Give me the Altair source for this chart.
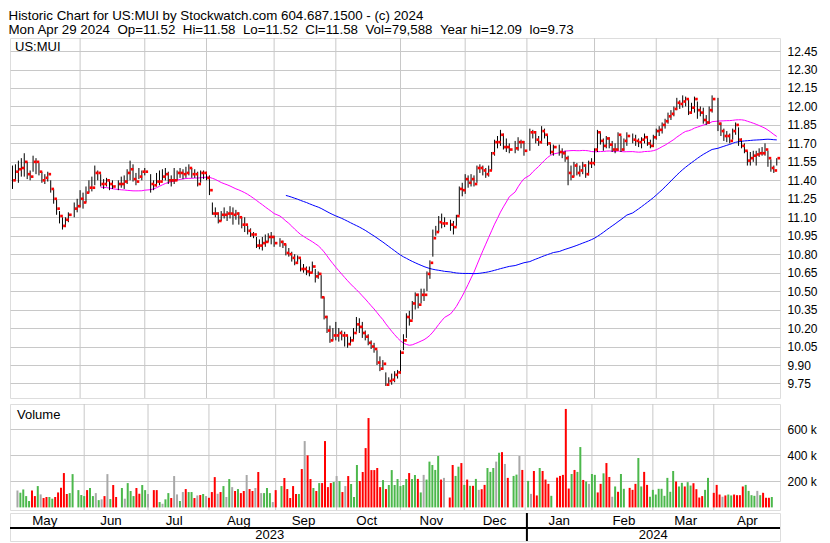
import altair as alt
import pandas as pd
import numpy as np

FONT = "Liberation Sans"

# ---------------- data ----------------
N_WEEKDAYS = 261                      # weekday slots May 1 2023 .. Apr 29 2024
HOLIDAYS = [20, 35, 46, 90, 148, 170, 175, 185, 210, 239]   # empty weekday slots

CLOSE = [
    11.40, 11.47, 11.49, 11.50, 11.55, 11.45, 11.43, 11.55, 11.55, 11.47,
    11.40, 11.42, 11.45, 11.33, 11.25, 11.17, 11.11, 11.03, 11.08, 11.12,
    11.17, 11.19, 11.25, 11.22, 11.30, 11.34, 11.34, 11.46, 11.46,
    11.37, 11.37, 11.40, 11.37, 11.35,
    11.37, 11.37, 11.39, 11.46,
    11.49, 11.41, 11.39, 11.43, 11.47, 11.47,
    11.37, 11.36, 11.39,
    11.39, 11.43, 11.45, 11.40, 11.40, 11.40, 11.46, 11.46, 11.45, 11.46,
    11.50, 11.45, 11.45, 11.37, 11.46, 11.46, 11.42, 11.32, 11.13, 11.13,
    11.07, 11.12, 11.12, 11.13, 11.13, 11.12, 11.13, 11.10, 11.04, 11.04,
    10.99, 10.96, 10.96, 10.87, 10.87, 10.89, 10.90, 10.94, 10.94, 10.89,
    10.90, 10.88, 10.81, 10.80, 10.77, 10.73, 10.77, 10.68, 10.68,
    10.66, 10.65, 10.70, 10.62, 10.64, 10.45, 10.29, 10.18, 10.10, 10.14,
    10.14, 10.16, 10.14, 10.14, 10.07, 10.10, 10.16, 10.23, 10.21, 10.16,
    10.13, 10.08, 10.05, 10.03, 9.92, 9.87, 9.91, 9.74, 9.77, 9.78,
    9.82, 9.84, 10.00, 10.10, 10.29, 10.26, 10.40, 10.47, 10.39, 10.47,
    10.47, 10.64, 10.73, 10.93, 10.98, 11.06, 11.05, 11.05,
    11.04,
    11.02, 11.11, 11.33, 11.32, 11.41, 11.38, 11.41, 11.37, 11.50, 11.50,
    11.48, 11.45, 11.48, 11.62, 11.71, 11.71, 11.77, 11.67, 11.67, 11.65,
    11.66, 11.71, 11.71, 11.64,
    11.79, 11.79, 11.73, 11.71,
    11.80, 11.77, 11.70, 11.63, 11.67,
    11.63, 11.62, 11.58, 11.46,
    11.43, 11.52, 11.46, 11.48, 11.52, 11.45, 11.54, 11.54, 11.65, 11.79,
    11.72, 11.68, 11.74, 11.69, 11.65, 11.65, 11.77, 11.65, 11.72, 11.76,
    11.73, 11.72, 11.71, 11.73, 11.75, 11.70, 11.68, 11.75, 11.80,
    11.81, 11.85, 11.88, 11.92, 11.94, 11.98, 12.03, 12.02, 12.04, 12.06,
    11.95, 11.99, 12.06, 11.97, 11.95, 11.89, 11.87, 11.97, 12.06,
    11.86, 11.80, 11.76, 11.76, 11.72, 11.80, 11.85, 11.73, 11.68, 11.64,
    11.56, 11.58, 11.60, 11.61, 11.62, 11.62, 11.65, 11.58, 11.50, 11.48,
    11.58,
]

HIGH = [
    11.52, 11.53, 11.56, 11.58, 11.62, 11.55, 11.48, 11.60, 11.58, 11.54,
    11.47, 11.45, 11.47, 11.40, 11.33, 11.24, 11.15, 11.10, 11.10, 11.14,
    11.22, 11.25, 11.32, 11.30, 11.35, 11.40, 11.43, 11.52, 11.48,
    11.45, 11.41, 11.42, 11.40, 11.40,
    11.40, 11.43, 11.44, 11.49,
    11.56, 11.53, 11.46, 11.50, 11.48, 11.50,
    11.45, 11.40, 11.46,
    11.48, 11.49, 11.50, 11.47, 11.44, 11.50, 11.48, 11.50, 11.49, 11.51,
    11.53, 11.50, 11.49, 11.47, 11.48, 11.48, 11.47, 11.44, 11.22, 11.18,
    11.14, 11.15, 11.18, 11.15, 11.19, 11.18, 11.16, 11.14, 11.10, 11.10,
    11.03, 11.01, 10.98, 10.94, 10.92, 10.94, 10.96, 10.97, 10.98, 10.95,
    10.93, 10.91, 10.88, 10.85, 10.82, 10.80, 10.79, 10.76, 10.72,
    10.70, 10.70, 10.74, 10.68, 10.66, 10.63, 10.45, 10.30, 10.22, 10.20,
    10.25, 10.20, 10.18, 10.17, 10.14, 10.13, 10.20, 10.29, 10.28, 10.25,
    10.18, 10.15, 10.10, 10.08, 10.02, 9.97, 9.94, 9.84, 9.80, 9.83,
    9.85, 9.86, 10.02, 10.15, 10.32, 10.34, 10.42, 10.49, 10.48, 10.52,
    10.52, 10.66, 10.75, 11.00, 11.03, 11.11, 11.13, 11.10,
    11.08,
    11.07, 11.12, 11.35, 11.38, 11.45, 11.44, 11.45, 11.44, 11.52, 11.53,
    11.52, 11.50, 11.52, 11.63, 11.73, 11.76, 11.81, 11.78, 11.74, 11.70,
    11.72, 11.75, 11.73, 11.72,
    11.82, 11.81, 11.80, 11.76,
    11.84, 11.82, 11.77, 11.70, 11.69,
    11.69, 11.66, 11.64, 11.60,
    11.52, 11.55, 11.54, 11.52, 11.55, 11.53, 11.56, 11.58, 11.66, 11.81,
    11.79, 11.74, 11.76, 11.75, 11.72, 11.70, 11.79, 11.76, 11.74, 11.79,
    11.78, 11.77, 11.74, 11.75, 11.78, 11.76, 11.73, 11.77, 11.82,
    11.84, 11.87, 11.90, 11.95, 11.97, 12.00, 12.07, 12.05, 12.09, 12.08,
    12.06, 12.03, 12.08, 12.04, 12.00, 11.99, 11.93, 12.00, 12.09,
    12.07, 11.87, 11.82, 11.80, 11.78, 11.82, 11.87, 11.83, 11.74, 11.70,
    11.64, 11.63, 11.64, 11.64, 11.66, 11.67, 11.70, 11.64, 11.57, 11.52,
    11.58,
]

LOW = [
    11.33, 11.40, 11.38, 11.43, 11.43, 11.41, 11.40, 11.47, 11.45, 11.44,
    11.38, 11.37, 11.39, 11.30, 11.21, 11.12, 11.05, 11.00, 11.02, 11.06,
    11.10, 11.14, 11.18, 11.17, 11.22, 11.30, 11.31, 11.36, 11.40,
    11.35, 11.33, 11.35, 11.32, 11.33,
    11.32, 11.34, 11.33, 11.37,
    11.40, 11.39, 11.36, 11.41, 11.40, 11.44,
    11.30, 11.32, 11.35,
    11.36, 11.40, 11.40, 11.37, 11.35, 11.37, 11.40, 11.42, 11.41, 11.42,
    11.44, 11.42, 11.42, 11.35, 11.38, 11.41, 11.40, 11.28, 11.12, 11.10,
    11.05, 11.07, 11.09, 11.07, 11.09, 11.04, 11.08, 11.04, 11.01, 10.98,
    10.96, 10.94, 10.93, 10.85, 10.84, 10.83, 10.86, 10.90, 10.88, 10.86,
    10.86, 10.85, 10.79, 10.78, 10.74, 10.71, 10.72, 10.66, 10.65,
    10.63, 10.62, 10.65, 10.57, 10.60, 10.44, 10.27, 10.16, 10.08, 10.10,
    10.10, 10.09, 10.10, 10.05, 10.04, 10.06, 10.10, 10.17, 10.16, 10.12,
    10.10, 10.06, 10.03, 10.00, 9.90, 9.85, 9.86, 9.73, 9.73, 9.74,
    9.76, 9.79, 9.83, 10.02, 10.12, 10.22, 10.27, 10.35, 10.36, 10.40,
    10.42, 10.50, 10.60, 10.78, 10.95, 10.98, 11.01, 11.02,
    10.99,
    10.96, 11.03, 11.12, 11.27, 11.29, 11.34, 11.35, 11.35, 11.38, 11.46,
    11.44, 11.42, 11.43, 11.48, 11.60, 11.66, 11.68, 11.65, 11.63, 11.62,
    11.62, 11.64, 11.66, 11.60,
    11.64, 11.74, 11.70, 11.68,
    11.70, 11.74, 11.68, 11.61, 11.60,
    11.60, 11.58, 11.55, 11.36,
    11.40, 11.43, 11.44, 11.43, 11.45, 11.42, 11.44, 11.50, 11.52, 11.63,
    11.69, 11.64, 11.66, 11.66, 11.63, 11.62, 11.64, 11.63, 11.64, 11.68,
    11.70, 11.68, 11.67, 11.66, 11.70, 11.68, 11.66, 11.67, 11.73,
    11.76, 11.78, 11.82, 11.86, 11.89, 11.92, 11.97, 11.98, 11.99, 12.00,
    11.93, 11.94, 11.95, 11.90, 11.92, 11.86, 11.85, 11.86, 11.95,
    11.80, 11.76, 11.72, 11.71, 11.70, 11.73, 11.77, 11.68, 11.66, 11.62,
    11.52, 11.52, 11.55, 11.52, 11.59, 11.60, 11.60, 11.51, 11.47, 11.46,
    11.52,
]

VOLUME_K = [
    130, 113, 138, 87, 49, 130, 87, 164, 100, 72,
    80, 80, 67, 80, 115, 151, 264, 103, 110, 256,
    133, 95, 87, 133, 149, 87, 110, 56, 62,
    87, 256, 64, 172, 80,
    149, 67, 187, 126,
    87, 149, 105, 172, 133, 103,
    133, 133, 41,
    28, 62, 110, 72, 241, 100, 49, 118, 141, 118,
    118, 72, 92, 95, 103, 87, 74, 118, 233, 105,
    118, 164, 80, 218, 156, 126, 141, 110, 126, 249,
    141, 126, 149, 272, 110, 110, 149, 110, 41, 133,
    164, 226, 141, 72, 164, 103, 103, 295, 510,
    400, 218, 149, 126, 187, 187, 510, 156, 187, 195,
    241, 203, 118, 164, 241, 180, 80, 326, 203, 272,
    456, 687, 287, 287, 303, 156, 210, 141, 172, 287,
    172, 218, 164, 172, 218, 264, 218, 249, 219, 115,
    250, 214, 352, 326, 288, 395, 214, 227,
    76,
    326, 242, 313, 341, 173, 214, 166, 166, 219, 135,
    140, 173, 303, 273, 303, 352, 420, 425, 334, 227,
    242, 252, 395, 288,
    204, 104, 280, 92,
    303, 280, 214, 181, 89,
    229, 242, 250, 757,
    145, 257, 288, 273, 464, 211, 199, 181, 257, 250,
    115, 181, 262, 341, 234, 82, 161, 120, 257, 143,
    150, 135, 181, 380, 161, 273, 173, 82, 135,
    99, 143, 143, 89, 227, 120, 280, 199, 161, 189,
    161, 194, 168, 186, 140, 76, 87, 135, 227,
    112, 173, 99, 82, 92, 99, 92, 99, 94, 94,
    161, 173, 127, 94, 89, 127, 94, 112, 74, 74,
    80,
]

MONTH_NAMES = ["May", "Jun", "Jul", "Aug", "Sep", "Oct", "Nov", "Dec",
               "Jan", "Feb", "Mar", "Apr"]
MONTH_START = [0, 23, 45, 66, 89, 110, 132, 154, 175, 198, 219, 240]
YEAR_NAMES = ["2023", "2024"]
YEAR_START = [0, 175]

PRICE_TICKS = [9.75, 9.90, 10.05, 10.20, 10.35, 10.50, 10.65, 10.80, 10.95,
               11.10, 11.25, 11.40, 11.55, 11.70, 11.85, 12.00, 12.15, 12.30, 12.45]
VOL_TICKS = [200000, 400000, 600000]

NB = "\u00a0"
TITLE_LINES = [
    "Historic Chart for US:MUI by Stockwatch.com 604.687.1500 - (c) 2024",
    f"Mon Apr 29 2024 {NB}Op=11.52 {NB}Hi=11.58 {NB}Lo=11.52 {NB}Cl=11.58 {NB}Vol=79,588 {NB}Year hi=12.09 {NB}lo=9.73",
]

# ---------------- tables ----------------
idx = [i for i in range(N_WEEKDAYS) if i not in HOLIDAYS]
assert len(idx) == len(CLOSE) == len(HIGH) == len(LOW) == len(VOLUME_K)
df = pd.DataFrame({"i": idx, "close": CLOSE, "high": HIGH, "low": LOW,
                   "volume": [v * 1000 for v in VOLUME_K]})
chg = df["close"].diff().fillna(0)
df["dir"] = np.where(chg > 0.001, "up", np.where(chg < -0.001, "down", "flat"))

bounds = MONTH_START + [N_WEEKDAYS]
mdf = pd.DataFrame({"m": MONTH_NAMES,
                    "mid": [(bounds[k] + bounds[k + 1]) / 2 - 0.5 for k in range(len(MONTH_NAMES))]})
gdf = pd.DataFrame({"i": MONTH_START[1:]})
ybounds = YEAR_START + [N_WEEKDAYS]
ydf = pd.DataFrame({"y": YEAR_NAMES,
                    "mid": [(ybounds[k] + ybounds[k + 1]) / 2 for k in range(len(YEAR_NAMES))]})

# ---------------- geometry ----------------
W = 770
PH = 360
VH = 106
AH = 28
GRID = "#c8c8c8"
GREEN = "#4cb84c"
RED = "#ff0000"
GRAY = "#a8a8a8"

xscale = alt.Scale(domain=[-0.85, 261.1], nice=False, zero=False)
xenc = alt.X("i:Q", scale=xscale, axis=None)

price_axis = alt.Axis(orient="right", values=PRICE_TICKS, format=".2f", grid=True,
                      gridColor=GRID, gridWidth=1, domain=False, ticks=False,
                      labelPadding=7, labelFont=FONT, labelFontSize=12,
                      labelColor="black", title=None)
pscale = alt.Scale(domain=[9.632, 12.556], nice=False, zero=False)

base = alt.Chart(df)

vgrid_p = alt.Chart(gdf).mark_rule(color=GRID, strokeWidth=1).encode(
    x=xenc, y=alt.value(0), y2=alt.value(PH))

hl = base.mark_rule(color="black", strokeWidth=1).encode(
    x=xenc, y=alt.Y("low:Q", scale=pscale, axis=price_axis), y2="high:Q")

cl = base.mark_square(color=RED, size=7, opacity=1, strokeWidth=0, xOffset=2).encode(
    x=xenc, y=alt.Y("close:Q", scale=pscale, axis=price_axis))

ma30 = base.transform_window(
    ma="mean(close)", rn="row_number()", frame=[-29, 0], sort=[alt.SortField("i")]
).transform_filter("datum.rn >= 30").mark_line(color="#ff00ff", strokeWidth=1).encode(
    x=xenc, y=alt.Y("ma:Q", scale=pscale, axis=price_axis))

ma90 = base.transform_window(
    ma="mean(close)", rn="row_number()", frame=[-89, 0], sort=[alt.SortField("i")]
).transform_filter("datum.rn >= 90").mark_line(color="#0000ff", strokeWidth=1).encode(
    x=xenc, y=alt.Y("ma:Q", scale=pscale, axis=price_axis))

sym = alt.Chart(pd.DataFrame({"t": ["US:MUI"]})).mark_text(
    align="left", baseline="middle", font=FONT, fontSize=13, color="black").encode(
    text="t:N", x=alt.value(5), y=alt.value(9))

price = alt.layer(vgrid_p, ma30, ma90, hl, cl, sym).properties(width=W, height=PH)

# volume
vol_axis = alt.Axis(orient="right", values=VOL_TICKS, labelExpr="datum.value / 1000 + ' k'",
                    grid=True, gridColor=GRID, gridWidth=1, domain=False, ticks=False,
                    labelPadding=7, labelFont=FONT, labelFontSize=12, labelColor="black",
                    title=None)
vgrid_v = alt.Chart(gdf).mark_rule(color=GRID, strokeWidth=1).encode(
    x=xenc, y=alt.value(0), y2=alt.value(VH))
vbars = base.mark_bar(size=2).encode(
    x=xenc,
    y=alt.Y("volume:Q", scale=alt.Scale(domain=[-20000, 795000], nice=False, zero=False),
            axis=vol_axis),
    y2=alt.value(VH),
    color=alt.Color("dir:N", scale=alt.Scale(domain=["up", "down", "flat"],
                                             range=[GREEN, RED, GRAY]), legend=None))
vlabel = alt.Chart(pd.DataFrame({"t": ["Volume"]})).mark_text(
    align="left", baseline="middle", font=FONT, fontSize=13, color="black").encode(
    text="t:N", x=alt.value(7), y=alt.value(11))
volume = alt.layer(vgrid_v, vbars, vlabel).properties(width=W, height=VH)

# date axis rows
mtext = alt.Chart(mdf).mark_text(font=FONT, fontSize=13.33, baseline="middle", color="black").encode(
    x=alt.X("mid:Q", scale=xscale, axis=None), y=alt.value(8), text="m:N")
sep = alt.Chart(pd.DataFrame({"a": [0]})).mark_rule(color="black", strokeWidth=2).encode(
    x=alt.value(0), x2=alt.value(W), y=alt.value(15))
ydiv = alt.Chart(pd.DataFrame({"i": YEAR_START[1:]})).mark_rule(color="black", strokeWidth=2).encode(
    x=xenc, y=alt.value(0), y2=alt.value(AH))
ytext = alt.Chart(ydf).mark_text(font=FONT, fontSize=13, baseline="middle", color="black").encode(
    x=alt.X("mid:Q", scale=xscale, axis=None), y=alt.value(22), text="y:N")
axisrow = alt.layer(mtext, sep, ydiv, ytext).properties(width=W, height=AH)

lower = alt.vconcat(volume, axisrow, spacing=0)

chart = alt.vconcat(price, lower, spacing=4).properties(
    padding=0,
    title=alt.TitleParams(text=TITLE_LINES, anchor="start", font=FONT, fontSize=13.33,
                          fontWeight="normal", lineHeight=14, offset=1, color="black"),
).configure_view(stroke="black", strokeWidth=2).configure(background="white")

chart.save("out.html", embed_options={"renderer": "svg", "actions": False})
